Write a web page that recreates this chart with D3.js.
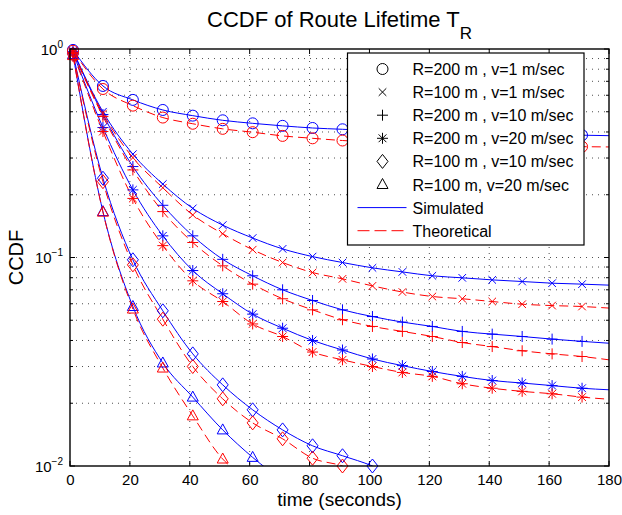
<!DOCTYPE html>
<html>
<head>
<meta charset="utf-8">
<script src="https://cdn.jsdelivr.net/npm/d3@7"></script>
<style>
html, body { margin: 0; padding: 0; background: #fff; overflow: hidden; }
svg { display: block; }
text { font-family: 'Liberation Sans', Arial, Helvetica, sans-serif; fill: #000; }
</style>
</head>
<body>
<svg></svg>
<script>
// sample times (markers every 10 s, last point only for the line end)
const times = [1, 11, 21, 31, 41, 51, 61, 71, 81, 91, 101, 111, 121, 131, 141, 151, 161, 171, 180];

const xTicks = [0, 20, 40, 60, 80, 100, 120, 140, 160, 180];
const yMajor = [0.01, 0.1, 1];
const yExponents = ['\u22122', '\u22121', '0'];

const legendLabels = [
	'R=200 m , v=1 m/sec',
	'R=100 m , v=1 m/sec',
	'R=200 m , v=10 m/sec',
	'R=200 m , v=20 m/sec',
	'R=100 m , v=10 m/sec',
	'R=100 m, v=20 m/sec'
];

// R=200, v=1
const circleSim = [0.99, 0.665, 0.57, 0.51, 0.479, 0.455, 0.44, 0.428, 0.418, 0.412, 0.406, 0.401, 0.397, 0.394, 0.392, 0.39, 0.388, 0.386, 0.384];
const circleTheo = [0.98, 0.643, 0.535, 0.469, 0.438, 0.414, 0.399, 0.383, 0.373, 0.364, 0.358, 0.354, 0.35, 0.347, 0.345, 0.343, 0.341, 0.34, 0.339];
// R=100, v=1
const crossSim = [0.98, 0.5, 0.313, 0.225, 0.172, 0.143, 0.124, 0.11, 0.101, 0.0946, 0.0892, 0.0853, 0.0817, 0.0799, 0.0781, 0.0767, 0.0753, 0.0745, 0.0737];
const crossTheo = [0.97, 0.49, 0.301, 0.216, 0.16, 0.13, 0.109, 0.0946, 0.0847, 0.079, 0.0731, 0.0683, 0.065, 0.0634, 0.0615, 0.0597, 0.0588, 0.0582, 0.0572];
// R=200, v=10
const plusSim = [0.97, 0.485, 0.273, 0.178, 0.127, 0.098, 0.0817, 0.07, 0.0622, 0.0561, 0.0521, 0.049, 0.0467, 0.0442, 0.0429, 0.0418, 0.0406, 0.0396, 0.0388];
const plusTheo = [0.96, 0.475, 0.263, 0.166, 0.118, 0.0912, 0.0745, 0.0634, 0.0561, 0.0503, 0.0467, 0.0442, 0.0418, 0.0391, 0.0374, 0.0357, 0.0345, 0.0335, 0.0323];
// R=200, v=20
const starSim = [0.96, 0.42, 0.211, 0.127, 0.0866, 0.067, 0.0535, 0.0458, 0.04, 0.036, 0.0326, 0.0303, 0.0284, 0.0269, 0.0257, 0.025, 0.0243, 0.0236, 0.0232];
const starTheo = [0.95, 0.402, 0.192, 0.114, 0.0773, 0.0615, 0.048, 0.0418, 0.0352, 0.0323, 0.03, 0.0281, 0.0269, 0.0248, 0.0236, 0.0228, 0.0222, 0.0214, 0.0209];
// R=100, v=10
const diamondSim = [0.95, 0.24, 0.0975, 0.0555, 0.0345, 0.0245, 0.0186, 0.0149, 0.0125, 0.0112, 0.01, 0.0085, null, null, null, null, null, null, null];
const diamondTheo = [0.94, 0.231, 0.0922, 0.0506, 0.03, 0.021, 0.0161, 0.0135, 0.0109, 0.01, 0.0086, null, null, null, null, null, null, null, null];
// R=100, v=20
const triangleSim = [0.94, 0.166, 0.0582, 0.0312, 0.0214, 0.0149, 0.011, 0.0085, null, null, null, null, null, null, null, null, null, null, null];
const triangleTheo = [0.93, 0.165, 0.0566, 0.0295, 0.0174, 0.0108, 0.0085, null, null, null, null, null, null, null, null, null, null, null, null];

const series = [
	{ shape: 'circle', sim: circleSim, theo: circleTheo },
	{ shape: 'cross', sim: crossSim, theo: crossTheo },
	{ shape: 'plus', sim: plusSim, theo: plusTheo },
	{ shape: 'star', sim: starSim, theo: starTheo },
	{ shape: 'diamond', sim: diamondSim, theo: diamondTheo },
	{ shape: 'triangle', sim: triangleSim, theo: triangleTheo }
];

const simColor = '#0000ff', theoColor = '#ff0000';

const markerPath = shape => {
	if (shape === 'circle') return 'M-5.5,0A5.5,5.5 0 1,0 5.5,0A5.5,5.5 0 1,0 -5.5,0Z';
	if (shape === 'cross') return 'M-3.8,-3.8L3.8,3.8M-3.8,3.8L3.8,-3.8';
	if (shape === 'plus') return 'M-5.5,0H5.5M0,-5.5V5.5';
	if (shape === 'star') return 'M-5.5,0H5.5M0,-5.5V5.5M-3.9,-3.9L3.9,3.9M-3.9,3.9L3.9,-3.9';
	if (shape === 'diamond') return 'M0,-7L5.5,0L0,7L-5.5,0Z';
	return 'M0,-6L5.5,4L-5.5,4Z';
};

const svg = d3.select('svg')
	.attr('width', 622)
	.attr('height', 515);

const width = +svg.attr('width'),
	height = +svg.attr('height');

const margin = { top: 49, right: 13, bottom: 49, left: 70 },
	innerWidth = width - margin.left - margin.right,
	innerHeight = height - margin.top - margin.bottom;

const xScale = d3.scaleLinear()
	.domain([0, 180])
	.range([0, innerWidth]);

const yScale = d3.scaleLog()
	.domain([0.01, 1])
	.range([innerHeight, 0]);

const isMajor = d => Math.abs(Math.log10(d) - Math.round(Math.log10(d))) < 1e-6;

const g = svg.append('g')
	.attr('transform', `translate(${margin.left}, ${margin.top})`);

g.append('clipPath').attr('id', 'plot-clip')
	.append('rect')
	.attr('width', innerWidth)
	.attr('height', innerHeight);

// dotted grid
const gridG = g.append('g')
	.attr('stroke', '#222')
	.attr('stroke-width', 0.8)
	.attr('stroke-dasharray', '1,5');

gridG.selectAll('.vgrid')
	.data(xTicks.slice(1, -1))
	.enter().append('line')
		.attr('x1', d => xScale(d)).attr('x2', d => xScale(d))
		.attr('y1', 0).attr('y2', innerHeight);

const yAll = yScale.ticks();

gridG.selectAll('.hgrid')
	.data(yAll.filter(d => d > 0.011 && d < 0.99))
	.enter().append('line')
		.attr('x1', 0).attr('x2', innerWidth)
		.attr('y1', d => yScale(d)).attr('y2', d => yScale(d));

// tick marks, pointing inward on all sides
const tickG = g.append('g').attr('stroke', '#000').attr('stroke-width', 1);

xTicks.forEach(d => {
	tickG.append('line').attr('x1', xScale(d)).attr('x2', xScale(d)).attr('y1', innerHeight).attr('y2', innerHeight - 5);
	tickG.append('line').attr('x1', xScale(d)).attr('x2', xScale(d)).attr('y1', 0).attr('y2', 5);
});

yAll.forEach(d => {
	const len = isMajor(d) ? 5 : 3;
	tickG.append('line').attr('x1', 0).attr('x2', len).attr('y1', yScale(d)).attr('y2', yScale(d));
	tickG.append('line').attr('x1', innerWidth).attr('x2', innerWidth - len).attr('y1', yScale(d)).attr('y2', yScale(d));
});

// x tick labels through a d3 axis
const xAxisG = g.append('g')
	.attr('transform', `translate(0, ${innerHeight})`)
	.call(d3.axisBottom(xScale).tickValues(xTicks).tickSize(0).tickPadding(8));
xAxisG.select('.domain').remove();
xAxisG.selectAll('text')
	.attr('font-size', 15)
	.attr('font-family', "'Liberation Sans', Arial, sans-serif")
	.attr('fill', '#000');

// y tick labels with exponents
const yLabelG = g.append('g');
yMajor.forEach((d, i) => {
	const t = yLabelG.append('text')
		.attr('x', -7)
		.attr('y', yScale(d) + 5.5)
		.attr('text-anchor', 'end')
		.attr('font-size', 15)
		.text('10');
	t.append('tspan')
		.attr('dy', -7)
		.attr('font-size', 10)
		.text(yExponents[i]);
});

// curves
const line = d3.line()
	.defined(d => d[1] != null)
	.x(d => xScale(d[0]))
	.y(d => yScale(d[1]))
	.curve(d3.curveMonotoneX);

const linesG = g.append('g').attr('clip-path', 'url(#plot-clip)').attr('fill', 'none');

series.forEach(s => {
	linesG.append('path')
		.datum(times.map((t, i) => [t, s.sim[i]]))
		.attr('d', line)
		.attr('stroke', simColor)
		.attr('stroke-width', 1);
});
series.forEach(s => {
	linesG.append('path')
		.datum(times.map((t, i) => [t, s.theo[i]]))
		.attr('d', line)
		.attr('stroke', theoColor)
		.attr('stroke-width', 1)
		.attr('stroke-dasharray', '9,5');
});

// markers
const markerData = (vals) => times
	.map((t, i) => [t, vals[i]])
	.filter((d, i) => i < times.length - 1 && d[1] != null && d[1] >= 0.0099);

const markersG = g.append('g').attr('fill', 'none').attr('stroke-width', 1);

series.forEach(s => {
	markersG.selectAll(null)
		.data(markerData(s.sim))
		.enter().append('path')
			.attr('d', markerPath(s.shape))
			.attr('transform', d => `translate(${xScale(d[0])}, ${yScale(d[1])})`)
			.attr('stroke', simColor);
});
series.forEach(s => {
	markersG.selectAll(null)
		.data(markerData(s.theo))
		.enter().append('path')
			.attr('d', markerPath(s.shape))
			.attr('transform', d => `translate(${xScale(d[0])}, ${yScale(d[1])})`)
			.attr('stroke', theoColor);
});

// axes box
g.append('rect')
	.attr('width', innerWidth)
	.attr('height', innerHeight)
	.attr('fill', 'none')
	.attr('stroke', '#000')
	.attr('stroke-width', 1.4);

// legend
const legend = svg.append('g').attr('transform', 'translate(347.5, 53)');
legend.append('rect')
	.attr('width', 236.5)
	.attr('height', 192)
	.attr('fill', '#fff')
	.attr('stroke', '#000')
	.attr('stroke-width', 1.2);

const rowY = i => 16 + i * 23.1;

series.forEach((s, i) => {
	legend.append('path')
		.attr('d', markerPath(s.shape))
		.attr('transform', `translate(35, ${rowY(i)})`)
		.attr('fill', 'none')
		.attr('stroke', '#000')
		.attr('stroke-width', 1);
	legend.append('text')
		.attr('x', 65)
		.attr('y', rowY(i) + 6)
		.attr('font-size', 16)
		.text(legendLabels[i]);
});

legend.append('line')
	.attr('x1', 10).attr('x2', 59)
	.attr('y1', rowY(6)).attr('y2', rowY(6))
	.attr('stroke', simColor);
legend.append('text')
	.attr('x', 65).attr('y', rowY(6) + 6)
	.attr('font-size', 16)
	.text('Simulated');

legend.append('line')
	.attr('x1', 10).attr('x2', 59)
	.attr('y1', rowY(7)).attr('y2', rowY(7))
	.attr('stroke', theoColor)
	.attr('stroke-dasharray', '12,5');
legend.append('text')
	.attr('x', 65).attr('y', rowY(7) + 6)
	.attr('font-size', 16)
	.text('Theoretical');

// title and axis labels
const title = svg.append('text')
	.attr('x', margin.left + innerWidth / 2)
	.attr('y', 27)
	.attr('text-anchor', 'middle')
	.attr('font-size', 22)
	.text('CCDF of Route Lifetime T');
title.append('tspan')
	.attr('dy', 12)
	.attr('font-size', 17)
	.text('R');

svg.append('text')
	.attr('x', margin.left + innerWidth / 2)
	.attr('y', 506)
	.attr('text-anchor', 'middle')
	.attr('font-size', 19)
	.text('time (seconds)');

svg.append('text')
	.attr('transform', `translate(23, ${margin.top + innerHeight / 2}) rotate(-90)`)
	.attr('text-anchor', 'middle')
	.attr('font-size', 20)
	.text('CCDF');
</script>
</body>
</html>
